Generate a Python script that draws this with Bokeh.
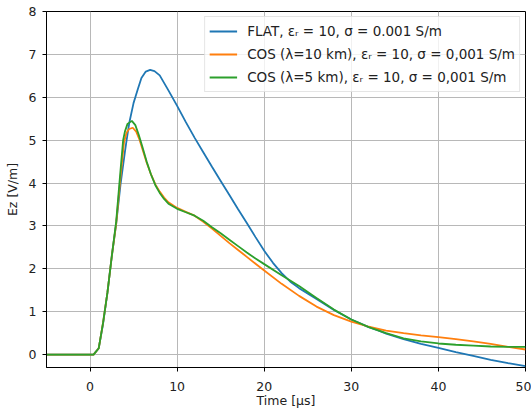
from bokeh.plotting import figure
from bokeh.models import ColumnDataSource, FixedTicker, Range1d, Legend, LegendItem
from bokeh.embed import file_html
from bokeh.resources import INLINE

# ---- data ----
t_flat = [-5, 0, 0.4, 1, 1.5, 2, 2.5, 3, 3.5, 4, 4.2, 4.5, 5, 5.2, 5.5, 5.9, 6.4, 6.9, 7.4,
          8, 9, 10, 11, 12, 13, 14, 15, 16, 17, 18, 19, 20, 21, 22, 23, 24, 26, 28, 30,
          32, 33, 34, 36, 38, 40, 42, 44, 46, 48, 50]
ez_flat = [0, 0, 0, 0.15, 0.72, 1.45, 2.3, 3.05, 3.97, 4.72, 5.0, 5.4, 5.87, 6.0, 6.2, 6.45,
           6.6, 6.64, 6.61, 6.51, 6.16, 5.8, 5.42, 5.06, 4.72, 4.38, 4.05, 3.72, 3.39, 3.07,
           2.74, 2.42, 2.14, 1.9, 1.7, 1.55, 1.3, 1.04, 0.82, 0.64, 0.57, 0.49, 0.36, 0.25,
           0.16, 0.06, -0.03, -0.12, -0.2, -0.27]

t_cos10 = [-5, 0, 0.4, 1, 1.5, 2, 2.5, 3, 3.5, 3.9, 4.2, 4.5, 4.9, 5.3, 5.7, 6, 6.5, 7, 7.5,
           8, 8.5, 9, 10, 11, 12, 13, 14, 15, 16, 17, 18, 19, 20, 22, 24, 26, 28, 30, 32,
           34, 36, 38, 40, 42, 44, 46, 48, 50]
ez_cos10 = [0, 0, 0, 0.15, 0.75, 1.45, 2.3, 3.05, 4.15, 4.95, 5.18, 5.26, 5.29, 5.2, 5.0,
            4.8, 4.48, 4.2, 3.97, 3.8, 3.66, 3.55, 3.42, 3.33, 3.24, 3.1, 2.94, 2.77, 2.6,
            2.44, 2.28, 2.12, 1.96, 1.65, 1.37, 1.12, 0.92, 0.77, 0.65, 0.56, 0.5, 0.45,
            0.41, 0.36, 0.31, 0.25, 0.18, 0.12]

t_cos5 = [-5, 0, 0.4, 1, 1.5, 2, 2.5, 3, 3.5, 3.8, 4.0, 4.3, 4.8, 5.2, 5.6, 6, 6.5, 7, 7.5,
          8, 8.5, 9, 10, 11, 12, 13, 14, 15, 16, 17, 18, 19, 20, 22, 24, 26, 28, 30, 32,
          34, 36, 38, 40, 42, 44, 46, 48, 50]
ez_cos5 = [0, 0, 0, 0.15, 0.75, 1.45, 2.3, 3.1, 4.3, 5.0, 5.2, 5.38, 5.45, 5.35, 5.12, 4.85,
           4.5, 4.2, 3.95, 3.77, 3.63, 3.52, 3.4, 3.32, 3.24, 3.12, 2.97, 2.83, 2.68, 2.53,
           2.38, 2.24, 2.11, 1.85, 1.6, 1.32, 1.05, 0.82, 0.64, 0.5, 0.38, 0.31, 0.26, 0.23,
           0.21, 0.19, 0.18, 0.18]

labels = ["FLAT, εᵣ = 10, σ = 0.001 S/m",
          "COS (λ=10 km), εᵣ = 10, σ = 0,001 S/m",
          "COS (λ=5 km), εᵣ = 10, σ = 0,001 S/m"]
colors = ["#1f77b4", "#ff7f0e", "#2ca02c"]
x_ticks = [0, 10, 20, 30, 40, 50]
y_ticks = [0, 1, 2, 3, 4, 5, 6, 7, 8]

FONT = "DejaVu Sans"
FS = "12.5px"
TXT = "#222222"

p = figure(width=531, height=414, output_backend="svg", toolbar_location=None,
           x_range=Range1d(-5, 50), y_range=Range1d(-0.3, 8),
           min_border_left=46, min_border_right=6, min_border_top=11, min_border_bottom=47)

p.background_fill_color = "white"
p.border_fill_color = "white"
p.outline_line_color = "black"
p.outline_line_width = 1

series = [(t_flat, ez_flat), (t_cos10, ez_cos10), (t_cos5, ez_cos5)]
renderers = []
for (tx, ez), c in zip(series, colors):
    src = ColumnDataSource(dict(t=tx, ez=ez))
    r = p.line("t", "ez", source=src, line_color=c, line_width=1.8)
    renderers.append(r)

p.xaxis.ticker = FixedTicker(ticks=x_ticks)
p.yaxis.ticker = FixedTicker(ticks=y_ticks)
p.xaxis.axis_label = "Time [μs]"
p.yaxis.axis_label = "Ez [V/m]"

for ax in (p.xaxis, p.yaxis):
    ax.axis_label_text_font = FONT
    ax.axis_label_text_font_size = FS
    ax.axis_label_text_font_style = "normal"
    ax.axis_label_text_color = TXT
    ax.major_label_text_font = FONT
    ax.major_label_text_font_size = FS
    ax.major_label_text_color = TXT
    ax.major_tick_in = 0
    ax.major_tick_out = 4
    ax.minor_tick_in = 0
    ax.minor_tick_out = 0
    ax.axis_line_color = "black"
    ax.major_tick_line_color = "black"

p.xaxis.major_label_standoff = 10
p.xaxis.axis_label_standoff = -1
p.yaxis.major_label_standoff = 6
p.yaxis.axis_label_standoff = 6

p.xgrid.grid_line_color = "#b8b8b8"
p.ygrid.grid_line_color = "#b8b8b8"
p.xgrid.grid_line_width = 1
p.ygrid.grid_line_width = 1

items = [LegendItem(label=l, renderers=[r]) for l, r in zip(labels, renderers)]
legend = Legend(items=items, location="top_right")
legend.margin = 5
legend.padding = 4
legend.spacing = 3
legend.glyph_width = 28
legend.glyph_height = 20
legend.label_height = 20
legend.label_standoff = 10
legend.label_text_font = FONT
legend.label_text_font_size = "13.5px"
legend.label_text_color = TXT
legend.border_line_color = "#cccccc"
legend.border_line_width = 1
legend.background_fill_alpha = 0.8
p.add_layout(legend, "center")

open("out.html", "w").write(file_html(p, INLINE))
